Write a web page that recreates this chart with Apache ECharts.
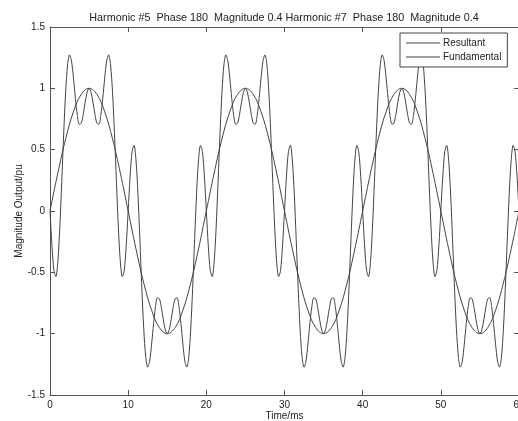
<!DOCTYPE html>
<html>
<head>
<meta charset="utf-8">
<script src="https://cdn.jsdelivr.net/npm/echarts@6/dist/echarts.min.js"></script>
<style>
html,body{margin:0;padding:0;background:#fff;}
#c{width:518px;height:421px;}
</style>
</head>
<body>
<div id="c"></div>
<script>
const titleText = 'Harmonic #5  Phase 180  Magnitude 0.4 Harmonic #7  Phase 180  Magnitude 0.4';
const xAxisName = 'Time/ms';
const yAxisName = 'Magnitude Output/pu';
const seriesNames = ['Resultant', 'Fundamental'];

// Resultant samples, one every 0.25 ms from 0 to 60 ms
const resultantStepMs = 0.25;
const resultantValues = [
 0, -0.284, -0.483, -0.535, -0.415, -0.140, 0.234, 0.629, 0.968, 1.191, 1.273, 1.223, 1.085, 0.918, 0.779, 0.707, 0.716, 0.788, 0.886, 0.968, 1.000, 0.968, 0.886, 0.788, 0.716, 0.707, 0.779, 0.918, 1.085, 1.223, 1.273, 1.191, 0.968, 0.629, 0.234, -0.140, -0.415, -0.535, -0.483, -0.284,
 0, 0.284, 0.483, 0.535, 0.415, 0.140, -0.234, -0.629, -0.968, -1.191, -1.273, -1.223, -1.085, -0.918, -0.779, -0.707, -0.716, -0.788, -0.886, -0.968, -1.000, -0.968, -0.886, -0.788, -0.716, -0.707, -0.779, -0.918, -1.085, -1.223, -1.273, -1.191, -0.968, -0.629, -0.234, 0.140, 0.415, 0.535, 0.483, 0.284,
 0, -0.284, -0.483, -0.535, -0.415, -0.140, 0.234, 0.629, 0.968, 1.191, 1.273, 1.223, 1.085, 0.918, 0.779, 0.707, 0.716, 0.788, 0.886, 0.968, 1.000, 0.968, 0.886, 0.788, 0.716, 0.707, 0.779, 0.918, 1.085, 1.223, 1.273, 1.191, 0.968, 0.629, 0.234, -0.140, -0.415, -0.535, -0.483, -0.284,
 0, 0.284, 0.483, 0.535, 0.415, 0.140, -0.234, -0.629, -0.968, -1.191, -1.273, -1.223, -1.085, -0.918, -0.779, -0.707, -0.716, -0.788, -0.886, -0.968, -1.000, -0.968, -0.886, -0.788, -0.716, -0.707, -0.779, -0.918, -1.085, -1.223, -1.273, -1.191, -0.968, -0.629, -0.234, 0.140, 0.415, 0.535, 0.483, 0.284,
 0, -0.284, -0.483, -0.535, -0.415, -0.140, 0.234, 0.629, 0.968, 1.191, 1.273, 1.223, 1.085, 0.918, 0.779, 0.707, 0.716, 0.788, 0.886, 0.968, 1.000, 0.968, 0.886, 0.788, 0.716, 0.707, 0.779, 0.918, 1.085, 1.223, 1.273, 1.191, 0.968, 0.629, 0.234, -0.140, -0.415, -0.535, -0.483, -0.284,
 0, 0.284, 0.483, 0.535, 0.415, 0.140, -0.234, -0.629, -0.968, -1.191, -1.273, -1.223, -1.085, -0.918, -0.779, -0.707, -0.716, -0.788, -0.886, -0.968, -1.000, -0.968, -0.886, -0.788, -0.716, -0.707, -0.779, -0.918, -1.085, -1.223, -1.273, -1.191, -0.968, -0.629, -0.234, 0.140, 0.415, 0.535, 0.483, 0.284,
 0
];

// Fundamental samples, one every 1 ms from 0 to 60 ms
const fundamentalStepMs = 1;
const fundamentalValues = [
 0, 0.309, 0.588, 0.809, 0.951, 1, 0.951, 0.809, 0.588, 0.309, 0, -0.309, -0.588, -0.809, -0.951, -1, -0.951, -0.809, -0.588, -0.309,
 0, 0.309, 0.588, 0.809, 0.951, 1, 0.951, 0.809, 0.588, 0.309, 0, -0.309, -0.588, -0.809, -0.951, -1, -0.951, -0.809, -0.588, -0.309,
 0, 0.309, 0.588, 0.809, 0.951, 1, 0.951, 0.809, 0.588, 0.309, 0, -0.309, -0.588, -0.809, -0.951, -1, -0.951, -0.809, -0.588, -0.309,
 0
];

const xTicks = [0, 10, 20, 30, 40, 50, 60];
const yTicks = [-1.5, -1, -0.5, 0, 0.5, 1, 1.5];

const font = 'Liberation Sans, Arial, Helvetica, sans-serif';
const lineColor = '#444';
const axisColor = '#555';

const resultantData = resultantValues.map((v, i) => [i * resultantStepMs, v]);
const fundamentalData = fundamentalValues.map((v, i) => [i * fundamentalStepMs, v]);

const chart = echarts.init(document.getElementById('c'), null, {renderer: 'canvas'});
const axisBase = {
  axisLine: {show: true, onZero: false, lineStyle: {color: axisColor, width: 1}},
  axisTick: {show: true, inside: true, length: 5, lineStyle: {color: axisColor}},
  splitLine: {show: false}
};
chart.setOption({
  animation: false,
  backgroundColor: '#fff',
  textStyle: {fontFamily: font},
  title: {
    text: titleText,
    left: 279, textAlign: 'center', top: 8,
    textStyle: {fontSize: 10.8, fontWeight: 'normal', color: '#222', fontFamily: font}
  },
  legend: {
    orient: 'vertical',
    left: 400, top: 33,
    padding: [5, 6, 5, 6],
    itemGap: 4,
    itemWidth: 34, itemHeight: 10,
    borderColor: '#444', borderWidth: 1, backgroundColor: '#fff',
    textStyle: {fontSize: 10, color: '#222', fontFamily: font, padding: [0, 0, 0, -2]},
    data: seriesNames.map(n => ({name: n, icon: 'path://M0,4.5 L34,4.5 L34,5.5 L0,5.5 Z'}))
  },
  grid: {left: 50, right: -1, top: 27, bottom: 26, containLabel: false, outerBoundsMode: 'none', show: false},
  xAxis: [
    Object.assign({}, axisBase, {
      type: 'value', min: 0, max: 60, interval: 10, position: 'bottom',
      name: xAxisName, nameLocation: 'middle', nameGap: 16, nameMoveOverlap: false,
      nameTextStyle: {fontSize: 10, color: '#222', fontFamily: font},
      axisLabel: {fontSize: 10, color: '#222', margin: 5, fontFamily: font,
        formatter: v => xTicks.includes(v) ? String(v) : ''}
    }),
    Object.assign({}, axisBase, {
      type: 'value', min: 0, max: 60, interval: 10, position: 'top',
      axisLabel: {show: false}
    })
  ],
  yAxis: [
    Object.assign({}, axisBase, {
      type: 'value', min: -1.5, max: 1.5, interval: 0.5, position: 'left',
      name: yAxisName, nameLocation: 'middle', nameGap: 26, nameMoveOverlap: false,
      nameTextStyle: {fontSize: 10, color: '#222', fontFamily: font},
      axisLabel: {fontSize: 10, color: '#222', margin: 5, fontFamily: font,
        formatter: v => yTicks.includes(v) ? String(v) : ''}
    }),
    Object.assign({}, axisBase, {
      type: 'value', min: -1.5, max: 1.5, interval: 0.5, position: 'right',
      axisLabel: {show: false}
    })
  ],
  series: [
    {name: seriesNames[0], type: 'line', data: resultantData, symbol: 'none', smooth: 0.3,
     lineStyle: {color: lineColor, width: 1}, itemStyle: {color: lineColor}},
    {name: seriesNames[1], type: 'line', data: fundamentalData, symbol: 'none', smooth: 0.4,
     lineStyle: {color: lineColor, width: 1}, itemStyle: {color: lineColor}}
  ]
});
</script>
</body>
</html>
